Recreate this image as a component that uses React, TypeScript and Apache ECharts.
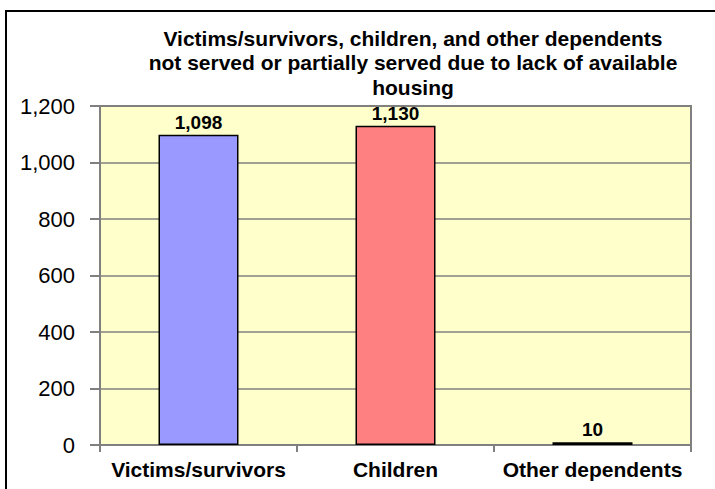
import React, { useEffect, useRef } from "react";
import * as echarts from "echarts";

const categories = ["Victims/survivors", "Children", "Other dependents"];
const values = [1098, 1130, 10];
const barColors = ["#9999FF", "#FF8080", "#333399"];
const titleText = "Victims/survivors, children, and other dependents\nnot served or partially served due to lack of available\nhousing";

const fmt = (v: number) => v.toLocaleString("en-US");

export default function App() {
  const ref = useRef<HTMLDivElement>(null);
  useEffect(() => {
    if (!ref.current) return;
    const chart = echarts.init(ref.current, null, { renderer: "svg" });
    chart.setOption({
      animation: false,
      backgroundColor: "#FFFFFF",
      textStyle: { fontFamily: "Liberation Sans, Arial, sans-serif" },
      title: {
        text: titleText,
        left: 408,
        textAlign: "center",
        top: 21,
        textStyle: {
          fontSize: 21,
          fontWeight: "bold",
          color: "#000",
          lineHeight: 24.5,
          fontFamily: "Liberation Sans, Arial, sans-serif",
        },
      },
      graphic: [
        {
          type: "rect",
          shape: { x: 6, y: 11, width: 800, height: 600 },
          style: { fill: "none", stroke: "#000", lineWidth: 2 },
          silent: true,
        },
      ],
      grid: {
        left: 100,
        top: 106,
        right: 24,
        bottom: 44,
        show: true,
        backgroundColor: "#FFFFCC",
        borderColor: "#808080",
        borderWidth: 2,
      },
      xAxis: {
        type: "category",
        data: categories,
        axisLine: { show: true, lineStyle: { color: "#808080", width: 2 } },
        axisTick: { show: true, length: 7, lineStyle: { color: "#808080", width: 2 } },
        axisLabel: {
          interval: 0,
          hideOverlap: false,
          color: "#000",
          fontSize: 21,
          fontWeight: "bold",
          margin: 14,
          fontFamily: "Liberation Sans, Arial, sans-serif",
        },
      },
      yAxis: {
        type: "value",
        min: 0,
        max: 1200,
        interval: 200,
        axisLine: { show: true, lineStyle: { color: "#808080", width: 2 } },
        axisTick: { show: true, length: 10, lineStyle: { color: "#808080", width: 2 } },
        splitLine: { show: true, lineStyle: { color: "#808080", width: 1.5 } },
        axisLabel: {
          color: "#000",
          fontSize: 22,
          margin: 25,
          formatter: (v: number) => fmt(v),
          fontFamily: "Liberation Sans, Arial, sans-serif",
        },
      },
      series: [
        {
          type: "bar",
          barWidth: 80,
          data: values.map((v, i) => ({
            value: v,
            itemStyle: { color: barColors[i], borderColor: "#000", borderWidth: 1.5 },
          })),
          label: {
            show: true,
            position: "top",
            distance: 3,
            color: "#000",
            fontSize: 19,
            fontWeight: "bold",
            formatter: (p: any) => fmt(p.value),
            fontFamily: "Liberation Sans, Arial, sans-serif",
          },
        },
      ],
    });
    return () => chart.dispose();
  }, []);
  return (
    <div
      ref={ref}
      style={{ position: "fixed", left: 0, top: 0, width: 715, height: 489 }}
    />
  );
}
